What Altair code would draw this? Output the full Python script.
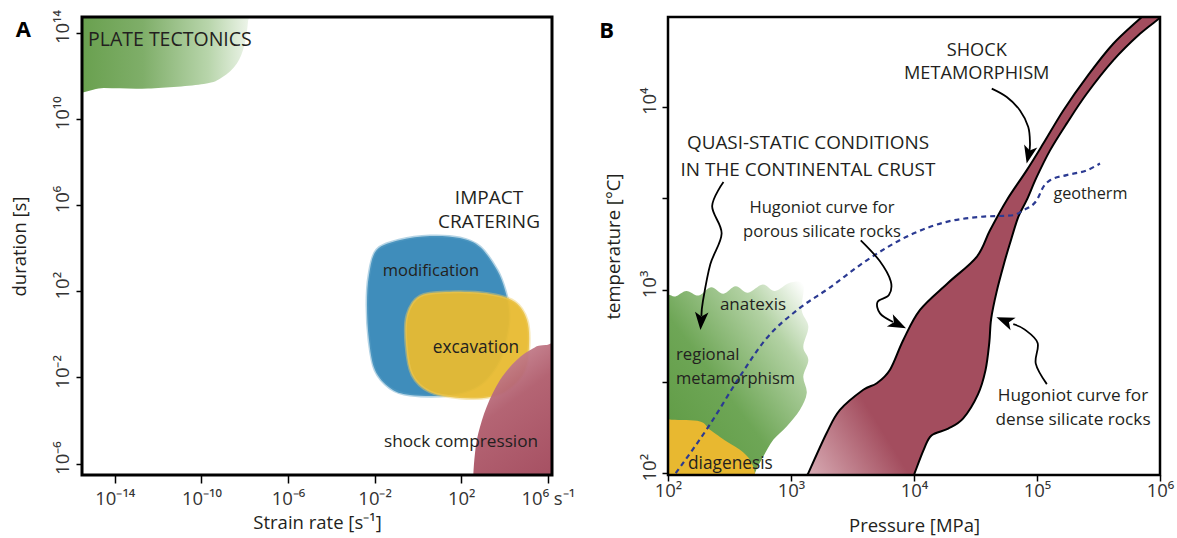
import altair as alt
import pandas as pd

FONT = "Open Sans"
TXT = "#231f20"

# ---------------- Panel A : values are base-10 exponents ----------------
A_X_DOMAIN = [-15.515, 6.194]
A_Y_DOMAIN = [-6.529, 14.724]
A_X_TICKS = [-14, -10, -6, -2, 2, 6]
A_X_LABELS = ["10⁻¹⁴", "10⁻¹⁰", "10⁻⁶", "10⁻²", "10²", "10⁶ s⁻¹"]
A_Y_TICKS = [-6, -2, 2, 6, 10, 14]
A_Y_LABELS = ["10⁻⁶", "10⁻²", "10²", "10⁶", "10¹⁰", "10¹⁴"]

PLATE_X = [-16.5, -16.5, -14.5, -12.46, -9.89, -9.04, -8.36, -8.01, -7.84, -7.8]
PLATE_Y = [15.6, 11.45, 11.43, 11.41, 11.62, 11.93, 12.57, 13.44, 14.56, 15.6]

MODIF_X = [-1.903, -0.827, 0.559, 1.945, 2.869, 3.654, 4.023, 4.208, 4.162, 3.792,
           2.869, 1.483, -0.364, -1.288, -1.982, -2.259, -2.351, -2.259]
MODIF_Y = [3.912, 4.376, 4.562, 4.469, 4.051, 2.984, 2.056, 1.128, 0.2, -1.192,
           -2.352, -2.816, -2.816, -2.491, -1.656, -0.264, 1.36, 2.752]

EXCAV_X = [0.097, 1.483, 3.33, 4.485, 5.039, 5.132, 4.947, 4.254, 3.33, 1.945,
           0.559, -0.272, -0.549, -0.503]
EXCAV_Y = [1.779, 1.965, 1.872, 1.501, 0.665, -0.495, -1.655, -2.491, -2.908, -2.955,
           -2.676, -1.887, -0.495, 0.897]

SHOCKA_X = [8.0, 5.9, 5.33, 4.563, 3.792, 3.178, 2.79, 2.637, 2.559, 2.54, 8.0]
SHOCKA_Y = [-0.45, -0.5, -0.649, -1.192, -2.12, -3.359, -4.594, -5.522, -6.529, -7.3, -7.3]

A_TEXT_C = ["IMPACT", "CRATERING", "modification", "excavation", "shock compression"]
A_TEXT_C_X = [3.284, 3.284, 0.605, 2.684, 1.991]
A_TEXT_C_Y = [6.325, 5.211, 2.937, -0.636, -4.998]
A_TEXT_C_SIZE = [19, 19, 16.5, 17.3, 17.2]

# ---------------- Panel B : values are base-10 exponents ----------------
B_X_DOMAIN = [2.0, 6.0]
B_Y_DOMAIN = [1.99, 4.49]
B_X_TICKS = [2, 3, 4, 5, 6]
B_X_LABELS = ["10²", "10³", "10⁴", "10⁵", "10⁶"]
B_Y_TICKS = [2, 2.5, 3, 3.5, 4]
B_Y_LABELS = ["10²", "", "10³", "", "10⁴"]

QUASI_X = [1.9, 1.9, 2.0, 2.06, 2.15, 2.25, 2.35, 2.45, 2.55, 2.65, 2.77, 2.87, 2.99, 3.1,
           3.087, 3.141, 3.1, 3.141, 3.1, 3.128, 3.073, 2.965, 2.856, 2.775, 2.707, 2.69]
QUASI_Y = [1.9, 2.975, 2.975, 2.965, 2.995, 2.97, 3.015, 2.98, 3.02, 2.985, 3.03, 2.995, 3.04, 3.03,
           2.89, 2.8, 2.69, 2.618, 2.527, 2.437, 2.346, 2.255, 2.182, 2.091, 2.0, 1.9]

DIAG_X = [1.9, 1.9, 2.03, 2.26, 2.341, 2.477, 2.585, 2.667, 2.707, 2.72]
DIAG_Y = [1.9, 2.291, 2.291, 2.282, 2.237, 2.173, 2.128, 2.073, 2.0, 1.9]

POROUS_X = [3.09, 3.141, 3.29, 3.398, 3.588, 3.697, 3.805, 3.913, 4.049, 4.276, 4.51,
            4.618, 4.754, 4.916, 5.051, 5.214, 5.404, 5.62, 5.864, 5.95]
POROUS_Y = [1.92, 2.0, 2.219, 2.345, 2.455, 2.491, 2.565, 2.727, 2.891, 3.038, 3.181,
            3.326, 3.49, 3.653, 3.799, 3.98, 4.162, 4.344, 4.498, 4.56]
DENSE_X = [6.1, 6.022, 5.837, 5.62, 5.404, 5.241, 5.106, 4.998, 4.916, 4.848, 4.78, 4.74,
           4.672, 4.627, 4.612, 4.581, 4.52, 4.40, 4.278, 4.142, 4.081, 4.005, 3.96]
DENSE_Y = [4.56, 4.498, 4.398, 4.253, 4.071, 3.908, 3.762, 3.617, 3.49, 3.399, 3.254, 3.163,
           2.991, 2.841, 2.711, 2.561, 2.43, 2.299, 2.243, 2.206, 2.131, 2.0, 1.92]

GEO_X = [2.063, 2.337, 2.58, 2.792, 3.065, 3.307, 3.61, 3.994, 4.266, 4.537, 4.807,
         4.889, 4.998, 5.051, 5.106, 5.241, 5.404, 5.512]
GEO_Y = [2.0, 2.262, 2.523, 2.729, 2.898, 3.009, 3.159, 3.308, 3.372, 3.399, 3.408,
         3.435, 3.49, 3.562, 3.599, 3.627, 3.653, 3.69]

ARROW1_X = [2.451, 2.359, 2.436, 2.344, 2.283, 2.272]
ARROW1_Y = [3.589, 3.458, 3.308, 3.14, 2.935, 2.858]
ARROW2_X = [3.567, 3.72, 3.811, 3.796, 3.704, 3.724, 3.829]
ARROW2_Y = [3.271, 3.159, 3.047, 2.972, 2.935, 2.872, 2.825]
ARROW3_X = [5.08, 4.99, 5.005, 4.898, 4.807]
ARROW3_Y = [2.486, 2.598, 2.711, 2.785, 2.813]
ARROW4_X = [4.632, 4.754, 4.862, 4.929, 4.943, 4.935]
ARROW4_Y = [4.099, 4.053, 3.98, 3.889, 3.799, 3.75]
TIP_X = [2.264, 3.935, 4.67, 4.916]
TIP_Y = [2.781, 2.791, 2.851, 3.69]
TIP_ANGLE = [184, 116, 292, 193]

B_TEXT_C = ["SHOCK", "METAMORPHISM", "QUASI-STATIC CONDITIONS", "IN THE CONTINENTAL CRUST",
            "Hugoniot curve for", "porous silicate rocks", "geotherm", "anatexis",
            "Hugoniot curve for", "dense silicate rocks"]
B_TEXT_C_X = [4.51, 4.51, 3.138, 3.138, 3.252, 3.252, 5.434, 2.691, 5.293, 5.293]
B_TEXT_C_Y = [4.307, 4.177, 3.801, 3.654, 3.447, 3.316, 3.526, 2.918, 2.422, 2.291]
B_TEXT_C_SIZE = [18.2, 18.2, 18.9, 18.9, 16.6, 16.6, 16.2, 17, 17.2, 17.2]
B_TEXT_L = ["regional", "metamorphism", "diagenesis"]
B_TEXT_L_X = [2.065, 2.065, 2.163]
B_TEXT_L_Y = [2.645, 2.514, 2.051]
B_TEXT_L_SIZE = [16.8, 16.5, 17.3]

ARROW_SHAPE = "M0,0L0.75,2L0,1.5L-0.75,2Z"

AW, AH = 470, 458
BW, BH = 492, 458
LEFT, TOP, GAP = 82, 17, 116
PAGE_W, PAGE_H = 1177, 538


def label_expr(ticks, labels):
    expr = "''"
    for t, l in reversed(list(zip(ticks, labels))):
        expr = f"datum.value == {t} ? '{l}' : ({expr})"
    return expr


def poly(xs, ys):
    return pd.DataFrame({"x": xs, "y": ys, "i": list(range(len(xs)))})


def grad(stops, x1, y1, x2, y2):
    return alt.LinearGradient(
        gradient="linear",
        stops=[alt.GradientStop(color=c, offset=o) for o, c in stops],
        x1=x1, y1=y1, x2=x2, y2=y2,
    )


def make_enc(xdom, ydom, xaxis, yaxis):
    def ex():
        return alt.X("x:Q", scale=alt.Scale(domain=xdom, nice=False, zero=False), axis=xaxis)

    def ey():
        return alt.Y("y:Q", scale=alt.Scale(domain=ydom, nice=False, zero=False), axis=yaxis)
    return ex, ey


axis_common = dict(grid=False, domain=False, tickColor="black", tickWidth=1.5,
                   labelFont=FONT, labelColor="#333333", titleFont=FONT,
                   titleColor=TXT, titleFontWeight="normal", labelFlush=False,
                   labelOverlap=False, labelFontSize=18.5, titleFontSize=18.5)

A_XAXIS = alt.Axis(values=A_X_TICKS, labelExpr=label_expr(A_X_TICKS, A_X_LABELS),
                   title="Strain rate [s⁻¹]", tickSize=8, labelPadding=6, titlePadding=6,
                   **axis_common)
A_YAXIS = alt.Axis(values=A_Y_TICKS, labelExpr=label_expr(A_Y_TICKS, A_Y_LABELS),
                   title="duration [s]", tickSize=6, labelAngle=270,
                   labelAlign="center", labelBaseline="bottom", labelOffset=-6,
                   labelPadding=4, titlePadding=24, **axis_common)
B_XAXIS = alt.Axis(values=B_X_TICKS, labelExpr=label_expr(B_X_TICKS, B_X_LABELS),
                   title="Pressure [MPa]", tickSize=6, labelPadding=0, titlePadding=17,
                   **axis_common)
B_YAXIS = alt.Axis(values=B_Y_TICKS, labelExpr=label_expr(B_Y_TICKS, B_Y_LABELS),
                   title="temperature [°C]", tickSize=6, labelAngle=270,
                   labelAlign="center", labelBaseline="bottom", labelOffset=-6,
                   labelPadding=3, titlePadding=17, **axis_common)

axA, ayA = make_enc(A_X_DOMAIN, A_Y_DOMAIN, A_XAXIS, A_YAXIS)
axB, ayB = make_enc(B_X_DOMAIN, B_Y_DOMAIN, B_XAXIS, B_YAXIS)


def blob(df, ex, ey, **mk):
    return alt.Chart(df).mark_line(clip=True, **mk).encode(
        x=ex(), y=ey(), order=alt.Order("i:Q"))


def texts(words, xs, ys, sizes, ex, ey, align="center"):
    df = pd.DataFrame({"x": xs, "y": ys, "t": words, "s": sizes})
    return alt.Chart(df).mark_text(font=FONT, color=TXT, align=align, baseline="middle").encode(
        x=ex(), y=ey(), text="t:N", size=alt.Size("s:Q", scale=None, legend=None))


def frame(w, h, sw):
    return alt.Chart(pd.DataFrame({"k": [0]})).mark_rect(
        fill="transparent", stroke="black", strokeWidth=sw).encode(
        x=alt.value(0), x2=alt.value(w), y=alt.value(0), y2=alt.value(h))


# ---------------- build panel A ----------------
plate = blob(poly(PLATE_X, PLATE_Y), axA, ayA, interpolate="cardinal-closed",
             fill=grad([(0, "#5c983f"), (0.45, "#7fae69"), (0.75, "#b8d5ab"), (1, "#ffffff")],
                       0, 0.5, 1, 0.5), strokeWidth=0)
modif = blob(poly(MODIF_X, MODIF_Y), axA, ayA, interpolate="cardinal-closed",
             fill="#3f8dbb", stroke="#5c9fc6", strokeWidth=3, strokeOpacity=0.45)
excav = blob(poly(EXCAV_X, EXCAV_Y), axA, ayA, interpolate="cardinal-closed",
             fill="#e8ba30", fillOpacity=0.95, stroke="#eecb62", strokeWidth=3,
             strokeOpacity=0.45)
shocka = blob(poly(SHOCKA_X, SHOCKA_Y), axA, ayA, interpolate="cardinal-closed",
              fill=grad([(0, "#dcaab4"), (0.45, "#b05c6c"), (1, "#9e4256")], 0, 0, 0.6, 1),
              fillOpacity=0.95, strokeWidth=0)

a_txt = texts(A_TEXT_C, A_TEXT_C_X, A_TEXT_C_Y, A_TEXT_C_SIZE, axA, ayA)
a_plate_txt = texts(["PLATE TECTONICS"], [-15.238], [13.657], [19.5], axA, ayA, align="left")
a_letter = alt.Chart(pd.DataFrame({"x": [-18.226], "y": [13.81], "t": ["A"]})).mark_text(
    font=FONT, fontSize=22, fontWeight="bold", color="black", baseline="alphabetic").encode(
    x=axA(), y=ayA(), text="t:N")

panelA = alt.layer(plate, modif, excav, shocka, a_txt, a_plate_txt, a_letter,
                   frame(AW, AH, 3)).properties(width=AW, height=AH)

# ---------------- build panel B ----------------
quasi = blob(poly(QUASI_X, QUASI_Y), axB, ayB, interpolate="cardinal-closed",
             fill=grad([(0, "#5a973e"), (0.45, "#6ea656"), (0.78, "#b3d2a4"), (1, "#ffffff")],
                       0.1, 0.9, 0.95, 0.0), strokeWidth=0)
diag = blob(poly(DIAG_X, DIAG_Y), axB, ayB, interpolate="cardinal-closed",
            fill="#e8b830", strokeWidth=0)
band = blob(poly(POROUS_X + DENSE_X, POROUS_Y + DENSE_Y), axB, ayB,
            interpolate="cardinal-closed",
            fill=grad([(0, "#e3bfc6"), (1, "#a34d5e")], 0, 1, 0.2, 0.84),
            stroke="black", strokeWidth=2)
geo = alt.Chart(poly(GEO_X, GEO_Y)).mark_line(
    clip=True, color="#2b3a92", strokeWidth=2.2, strokeDash=[5, 4],
    interpolate="monotone").encode(x=axB(), y=ayB(), order=alt.Order("i:Q"))

arrows_df = pd.concat([
    poly(ARROW1_X, ARROW1_Y).assign(a=1),
    poly(ARROW2_X, ARROW2_Y).assign(a=2),
    poly(ARROW3_X, ARROW3_Y).assign(a=3),
    poly(ARROW4_X, ARROW4_Y).assign(a=4),
])
arrows = alt.Chart(arrows_df).mark_line(color="black", strokeWidth=1.8,
                                        interpolate="cardinal").encode(
    x=axB(), y=ayB(), detail="a:N", order=alt.Order("i:Q"))
heads = alt.Chart(pd.DataFrame({"x": TIP_X, "y": TIP_Y, "ang": TIP_ANGLE})).mark_point(
    shape=ARROW_SHAPE, filled=True, color="black", size=324, opacity=1).encode(
    x=axB(), y=ayB(), angle=alt.Angle("ang:Q", scale=None))

b_txt = texts(B_TEXT_C, B_TEXT_C_X, B_TEXT_C_Y, B_TEXT_C_SIZE, axB, ayB)
b_txt_l = texts(B_TEXT_L, B_TEXT_L_X, B_TEXT_L_Y, B_TEXT_L_SIZE, axB, ayB, align="left")
b_letter = alt.Chart(pd.DataFrame({"x": [1.502], "y": [4.378], "t": ["B"]})).mark_text(
    font=FONT, fontSize=22, fontWeight="bold", color="black", baseline="alphabetic").encode(
    x=axB(), y=ayB(), text="t:N")

panelB = alt.layer(quasi, diag, band, geo, arrows, heads, b_txt, b_txt_l, b_letter,
                   frame(BW, BH, 2.5)).properties(width=BW, height=BH)

chart = alt.hconcat(panelA, panelB, spacing=GAP, bounds="flush").properties(
    autosize=alt.AutoSizeParams(type="none"),
    padding={"left": LEFT, "top": TOP, "right": PAGE_W - LEFT, "bottom": PAGE_H - TOP},
    background="white",
).configure_view(strokeWidth=0)

chart.save("out.html", embed_options={"renderer": "svg", "actions": False})
